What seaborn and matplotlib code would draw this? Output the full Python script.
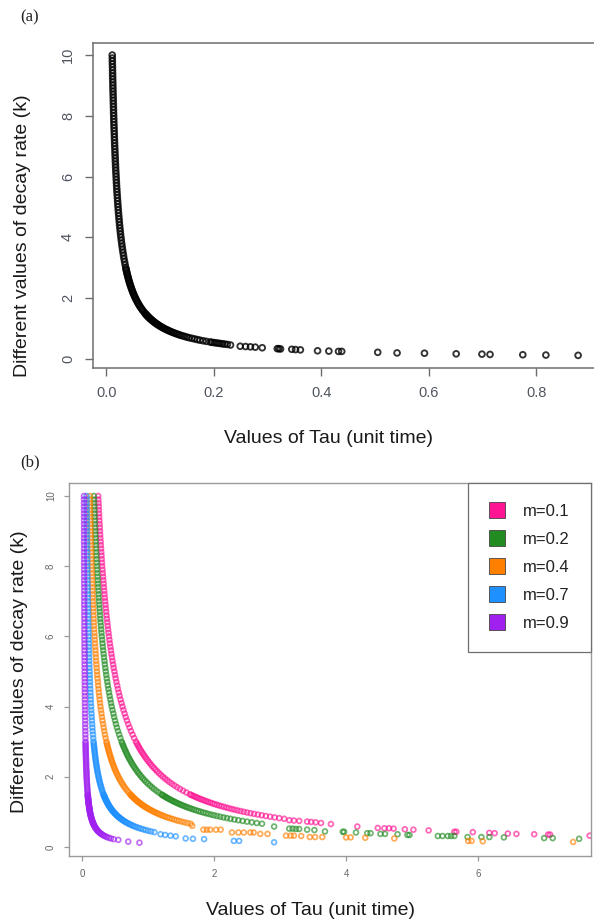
import matplotlib
matplotlib.use("Agg")
import matplotlib.pyplot as plt
from matplotlib.lines import Line2D
import pandas as pd
import seaborn as sns

# ---------------------------------------------------------------------------
# Decay rates (k) sampled along the dense part of every curve
# ---------------------------------------------------------------------------
k_dense = [
    10.0, 9.9, 9.8, 9.7, 9.6, 9.5, 9.4, 9.3, 9.2, 9.1,
    9.0, 8.9, 8.8, 8.7, 8.6, 8.5, 8.4, 8.3, 8.2, 8.1,
    8.0, 7.9, 7.8, 7.7, 7.6, 7.5, 7.4, 7.3, 7.2, 7.1,
    7.0, 6.9, 6.8, 6.7, 6.6, 6.5, 6.4, 6.3, 6.2, 6.1,
    6.0, 5.9, 5.8, 5.7, 5.6, 5.5, 5.4, 5.3, 5.2, 5.1,
    5.0, 4.9, 4.8, 4.7, 4.6, 4.5, 4.4, 4.3, 4.2, 4.1,
    4.0, 3.9, 3.8, 3.7, 3.6, 3.5, 3.4, 3.3, 3.2, 3.1,
    3.0, 2.95, 2.9, 2.85, 2.8, 2.75, 2.7, 2.65, 2.6, 2.55,
    2.5, 2.45, 2.4, 2.35, 2.3, 2.25, 2.2, 2.15, 2.1, 2.05,
    2.0, 1.95, 1.9, 1.85, 1.8, 1.75, 1.7, 1.65, 1.6, 1.55,
    1.5, 1.48, 1.46, 1.44, 1.42, 1.4, 1.38, 1.36, 1.34, 1.32,
    1.3, 1.28, 1.26, 1.24, 1.22, 1.2, 1.18, 1.16, 1.14, 1.12,
    1.1, 1.08, 1.06, 1.04, 1.02, 1.0, 0.98, 0.96, 0.94, 0.92,
    0.9, 0.88, 0.86, 0.84, 0.82, 0.8,
]

# Panel (a): Tau at each k_dense value
tau_single = [
    0.0108, 0.0109, 0.0110, 0.0111, 0.0113, 0.0114, 0.0115, 0.0116, 0.0117, 0.0119,
    0.0120, 0.0121, 0.0123, 0.0124, 0.0126, 0.0127, 0.0129, 0.0130, 0.0132, 0.0133,
    0.0135, 0.0137, 0.0138, 0.0140, 0.0142, 0.0144, 0.0146, 0.0148, 0.0150, 0.0152,
    0.0154, 0.0157, 0.0159, 0.0161, 0.0164, 0.0166, 0.0169, 0.0171, 0.0174, 0.0177,
    0.0180, 0.0183, 0.0186, 0.0189, 0.0193, 0.0196, 0.0200, 0.0204, 0.0208, 0.0212,
    0.0216, 0.0220, 0.0225, 0.0230, 0.0235, 0.0240, 0.0245, 0.0251, 0.0257, 0.0263,
    0.0270, 0.0277, 0.0284, 0.0292, 0.0300, 0.0309, 0.0318, 0.0327, 0.0338, 0.0348,
    0.0360, 0.0366, 0.0372, 0.0379, 0.0386, 0.0393, 0.0400, 0.0408, 0.0415, 0.0424,
    0.0432, 0.0441, 0.0450, 0.0460, 0.0470, 0.0480, 0.0491, 0.0502, 0.0514, 0.0527,
    0.0540, 0.0554, 0.0568, 0.0584, 0.0600, 0.0617, 0.0635, 0.0655, 0.0675, 0.0697,
    0.0720, 0.0730, 0.0740, 0.0750, 0.0761, 0.0771, 0.0783, 0.0794, 0.0806, 0.0818,
    0.0831, 0.0844, 0.0857, 0.0871, 0.0885, 0.0900, 0.0915, 0.0931, 0.0947, 0.0964,
    0.0982, 0.1000, 0.1019, 0.1038, 0.1059, 0.1080, 0.1102, 0.1125, 0.1149, 0.1174,
    0.1200, 0.1227, 0.1256, 0.1286, 0.1317, 0.1350,
]
tail_single_tau = [
    0.138, 0.142, 0.146, 0.150, 0.154, 0.159, 0.164, 0.169, 0.174, 0.180,
    0.186, 0.193, 0.196, 0.200, 0.204, 0.208, 0.212, 0.216, 0.220, 0.225,
    0.231, 0.249, 0.259, 0.268, 0.277, 0.290, 0.318, 0.321, 0.324, 0.345,
    0.352, 0.361, 0.393, 0.414, 0.432, 0.438, 0.505, 0.541, 0.592, 0.651,
    0.699, 0.714, 0.775, 0.818, 0.878,
]
tail_single_k = [
    0.78, 0.76, 0.74, 0.72, 0.70, 0.68, 0.66, 0.64, 0.62, 0.60,
    0.58, 0.56, 0.55, 0.54, 0.53, 0.52, 0.51, 0.50, 0.49, 0.48,
    0.46, 0.42, 0.41, 0.40, 0.39, 0.37, 0.34, 0.34, 0.33, 0.32,
    0.31, 0.30, 0.27, 0.26, 0.25, 0.25, 0.22, 0.20, 0.19, 0.17,
    0.16, 0.15, 0.14, 0.13, 0.12,
]

# Panel (b): one Tau series per value of m
m_labels = ["m=0.1", "m=0.2", "m=0.4", "m=0.7", "m=0.9"]
m_colors = ["#FF1493", "#228B22", "#FF7F00", "#1E90FF", "#A020F0"]

tau_m01 = [
    0.245, 0.247, 0.250, 0.253, 0.255, 0.258, 0.261, 0.263, 0.266, 0.269,
    0.272, 0.275, 0.278, 0.282, 0.285, 0.288, 0.292, 0.295, 0.299, 0.302,
    0.306, 0.310, 0.314, 0.318, 0.322, 0.327, 0.331, 0.336, 0.340, 0.345,
    0.350, 0.355, 0.360, 0.366, 0.371, 0.377, 0.383, 0.389, 0.395, 0.402,
    0.408, 0.415, 0.422, 0.430, 0.438, 0.445, 0.454, 0.462, 0.471, 0.480,
    0.490, 0.500, 0.510, 0.521, 0.533, 0.544, 0.557, 0.570, 0.583, 0.598,
    0.613, 0.628, 0.645, 0.662, 0.681, 0.700, 0.721, 0.742, 0.766, 0.790,
    0.817, 0.831, 0.845, 0.860, 0.875, 0.891, 0.907, 0.925, 0.942, 0.961,
    0.980, 1.000, 1.021, 1.043, 1.065, 1.089, 1.114, 1.140, 1.167, 1.195,
    1.225, 1.256, 1.289, 1.324, 1.361, 1.400, 1.441, 1.485, 1.531, 1.581,
    1.633, 1.655, 1.678, 1.701, 1.725, 1.750, 1.775, 1.801, 1.828, 1.856,
    1.885, 1.914, 1.944, 1.976, 2.008, 2.042, 2.076, 2.112, 2.149, 2.188,
    2.227, 2.269, 2.311, 2.356, 2.402, 2.450, 2.500, 2.552, 2.606, 2.663,
    2.722, 2.784, 2.849, 2.917, 2.988, 3.063,
]
tau_m02 = [
    0.180, 0.182, 0.184, 0.186, 0.188, 0.189, 0.191, 0.194, 0.196, 0.198,
    0.200, 0.202, 0.205, 0.207, 0.209, 0.212, 0.214, 0.217, 0.220, 0.222,
    0.225, 0.228, 0.231, 0.234, 0.237, 0.240, 0.243, 0.247, 0.250, 0.254,
    0.257, 0.261, 0.265, 0.269, 0.273, 0.277, 0.281, 0.286, 0.290, 0.295,
    0.300, 0.305, 0.310, 0.316, 0.321, 0.327, 0.333, 0.340, 0.346, 0.353,
    0.360, 0.367, 0.375, 0.383, 0.391, 0.400, 0.409, 0.419, 0.429, 0.439,
    0.450, 0.462, 0.474, 0.486, 0.500, 0.514, 0.529, 0.545, 0.563, 0.581,
    0.600, 0.610, 0.621, 0.632, 0.643, 0.655, 0.667, 0.679, 0.692, 0.706,
    0.720, 0.735, 0.750, 0.766, 0.783, 0.800, 0.818, 0.837, 0.857, 0.878,
    0.900, 0.923, 0.947, 0.973, 1.000, 1.029, 1.059, 1.091, 1.125, 1.161,
    1.200, 1.216, 1.233, 1.250, 1.268, 1.286, 1.304, 1.324, 1.343, 1.364,
    1.385, 1.406, 1.429, 1.452, 1.475, 1.500, 1.525, 1.552, 1.579, 1.607,
    1.636, 1.667, 1.698, 1.731, 1.765, 1.800, 1.837, 1.875, 1.915, 1.957,
    2.000, 2.045, 2.093, 2.143, 2.195, 2.250,
]
tau_m04 = [
    0.118, 0.119, 0.120, 0.121, 0.123, 0.124, 0.125, 0.126, 0.127, 0.129,
    0.130, 0.131, 0.133, 0.134, 0.136, 0.137, 0.139, 0.140, 0.142, 0.143,
    0.145, 0.147, 0.148, 0.150, 0.152, 0.154, 0.156, 0.158, 0.160, 0.162,
    0.164, 0.167, 0.169, 0.171, 0.174, 0.176, 0.179, 0.181, 0.184, 0.187,
    0.190, 0.193, 0.196, 0.199, 0.203, 0.206, 0.210, 0.214, 0.218, 0.222,
    0.226, 0.230, 0.235, 0.240, 0.245, 0.250, 0.255, 0.261, 0.267, 0.273,
    0.280, 0.287, 0.294, 0.302, 0.310, 0.319, 0.328, 0.337, 0.348, 0.358,
    0.370, 0.376, 0.382, 0.389, 0.396, 0.403, 0.410, 0.418, 0.425, 0.434,
    0.442, 0.451, 0.460, 0.470, 0.480, 0.490, 0.501, 0.512, 0.524, 0.537,
    0.550, 0.564, 0.578, 0.594, 0.610, 0.627, 0.645, 0.665, 0.685, 0.707,
    0.730, 0.740, 0.750, 0.760, 0.771, 0.781, 0.793, 0.804, 0.816, 0.828,
    0.841, 0.854, 0.867, 0.881, 0.895, 0.910, 0.925, 0.941, 0.957, 0.974,
    0.992, 1.010, 1.029, 1.048, 1.069, 1.090, 1.112, 1.135, 1.159, 1.184,
    1.210, 1.237, 1.266, 1.296, 1.327, 1.360,
]
tau_m07 = [
    0.070, 0.070, 0.071, 0.071, 0.072, 0.072, 0.073, 0.073, 0.074, 0.074,
    0.075, 0.076, 0.076, 0.077, 0.077, 0.078, 0.079, 0.079, 0.080, 0.081,
    0.081, 0.082, 0.083, 0.083, 0.084, 0.085, 0.086, 0.087, 0.088, 0.088,
    0.089, 0.090, 0.091, 0.092, 0.093, 0.094, 0.095, 0.096, 0.098, 0.099,
    0.100, 0.101, 0.103, 0.104, 0.105, 0.107, 0.108, 0.110, 0.112, 0.113,
    0.115, 0.117, 0.119, 0.121, 0.123, 0.125, 0.127, 0.130, 0.132, 0.135,
    0.138, 0.140, 0.143, 0.147, 0.150, 0.154, 0.157, 0.161, 0.166, 0.170,
    0.175, 0.178, 0.180, 0.183, 0.186, 0.189, 0.192, 0.195, 0.198, 0.201,
    0.205, 0.209, 0.213, 0.216, 0.221, 0.225, 0.230, 0.234, 0.239, 0.245,
    0.250, 0.256, 0.262, 0.268, 0.275, 0.282, 0.290, 0.298, 0.306, 0.315,
    0.325, 0.329, 0.333, 0.338, 0.342, 0.346, 0.351, 0.356, 0.361, 0.366,
    0.371, 0.377, 0.382, 0.388, 0.394, 0.400, 0.406, 0.413, 0.420, 0.427,
    0.434, 0.442, 0.450, 0.458, 0.466, 0.475, 0.484, 0.494, 0.504, 0.514,
    0.525, 0.536, 0.548, 0.561, 0.574, 0.588,
]
tau_m09 = [
    0.030, 0.030, 0.030, 0.030, 0.030, 0.031, 0.031, 0.031, 0.031, 0.031,
    0.031, 0.031, 0.031, 0.031, 0.032, 0.032, 0.032, 0.032, 0.032, 0.032,
    0.033, 0.033, 0.033, 0.033, 0.033, 0.033, 0.034, 0.034, 0.034, 0.034,
    0.034, 0.034, 0.035, 0.035, 0.035, 0.035, 0.036, 0.036, 0.036, 0.036,
    0.037, 0.037, 0.037, 0.038, 0.038, 0.038, 0.039, 0.039, 0.039, 0.040,
    0.040, 0.040, 0.041, 0.041, 0.042, 0.042, 0.043, 0.043, 0.044, 0.044,
    0.045, 0.046, 0.046, 0.047, 0.048, 0.049, 0.049, 0.050, 0.051, 0.052,
    0.053, 0.054, 0.054, 0.055, 0.056, 0.056, 0.057, 0.058, 0.058, 0.059,
    0.060, 0.061, 0.062, 0.063, 0.063, 0.064, 0.065, 0.067, 0.068, 0.069,
    0.070, 0.071, 0.073, 0.074, 0.076, 0.077, 0.079, 0.081, 0.083, 0.085,
    0.087, 0.088, 0.088, 0.089, 0.090, 0.091, 0.092, 0.094, 0.095, 0.096,
    0.097, 0.098, 0.099, 0.101, 0.102, 0.103, 0.105, 0.106, 0.108, 0.109,
    0.111, 0.113, 0.114, 0.116, 0.118, 0.120, 0.122, 0.124, 0.126, 0.129,
    0.131, 0.134, 0.136, 0.139, 0.142, 0.145,
]

# Sparser ends of each curve (small k, large Tau)
tail_m01_tau = [3.14, 3.21, 3.29, 3.41, 3.47, 3.54, 3.62, 3.77, 4.17, 4.48,
                4.58, 4.65, 4.72, 4.89, 5.02, 5.25, 5.64, 5.67, 5.92, 6.17,
                6.25, 6.45, 6.58, 6.85, 7.06, 7.09, 7.69]
tail_m01_k = [0.76, 0.75, 0.74, 0.72, 0.71, 0.70, 0.68, 0.65, 0.58, 0.54,
              0.53, 0.53, 0.52, 0.50, 0.49, 0.47, 0.43, 0.43, 0.42, 0.40,
              0.39, 0.38, 0.37, 0.36, 0.35, 0.35, 0.32]

tail_m02_tau = [2.308, 2.368, 2.432, 2.500, 2.571, 2.647, 2.727, 2.91, 3.14, 3.19,
                3.24, 3.29, 3.41, 3.52, 3.68, 3.95, 3.97, 4.15, 4.32, 4.37,
                4.52, 4.59, 4.78, 4.93, 4.96, 5.39, 5.46, 5.54, 5.59, 5.64,
                5.84, 6.05, 6.17, 6.39, 7.00, 7.13, 7.53]
tail_m02_k = [0.78, 0.76, 0.74, 0.72, 0.70, 0.68, 0.66, 0.58, 0.52, 0.52,
              0.51, 0.51, 0.49, 0.48, 0.44, 0.43, 0.43, 0.41, 0.39, 0.39,
              0.37, 0.37, 0.36, 0.34, 0.34, 0.31, 0.31, 0.31, 0.31, 0.31,
              0.28, 0.28, 0.28, 0.27, 0.25, 0.25, 0.23]

tail_m04_tau = [1.395, 1.431, 1.469, 1.510, 1.553, 1.598, 1.646, 1.67, 1.84, 1.89,
                1.94, 2.03, 2.10, 2.27, 2.37, 2.45, 2.55, 2.60, 2.70, 2.81,
                3.09, 3.16, 3.21, 3.32, 3.45, 3.53, 3.64, 4.00, 4.07, 4.29,
                4.73, 5.85, 5.90, 6.07, 7.44]
tail_m04_k = [0.78, 0.76, 0.74, 0.72, 0.70, 0.68, 0.66, 0.60, 0.49, 0.49,
              0.49, 0.49, 0.49, 0.41, 0.41, 0.41, 0.41, 0.41, 0.37, 0.37,
              0.32, 0.32, 0.32, 0.31, 0.28, 0.28, 0.28, 0.27, 0.27, 0.26,
              0.24, 0.17, 0.17, 0.16, 0.14]

tail_m07_tau = [0.602, 0.617, 0.633, 0.650, 0.668, 0.687, 0.707, 0.728, 0.751, 0.775,
                0.801, 0.829, 0.858, 0.890, 0.925, 0.963, 1.003, 1.048, 1.096, 1.19,
                1.26, 1.34, 1.42, 1.57, 1.68, 1.85, 2.30, 2.38, 2.91]
tail_m07_k = [0.78, 0.76, 0.74, 0.72, 0.70, 0.68, 0.66, 0.64, 0.62, 0.60,
              0.58, 0.56, 0.54, 0.52, 0.50, 0.48, 0.46, 0.44, 0.42, 0.36,
              0.34, 0.32, 0.30, 0.24, 0.23, 0.22, 0.17, 0.17, 0.13]

tail_m09_tau = [0.148, 0.152, 0.155, 0.159, 0.163, 0.167, 0.172, 0.176, 0.181, 0.187,
                0.192, 0.199, 0.205, 0.212, 0.220, 0.228, 0.237, 0.247, 0.258, 0.270,
                0.283, 0.298, 0.314, 0.333, 0.353, 0.377, 0.405, 0.437, 0.48, 0.55,
                0.70, 0.87]
tail_m09_k = [0.78, 0.76, 0.74, 0.72, 0.70, 0.68, 0.66, 0.64, 0.62, 0.60,
              0.58, 0.56, 0.54, 0.52, 0.50, 0.48, 0.46, 0.44, 0.42, 0.40,
              0.38, 0.36, 0.34, 0.32, 0.30, 0.28, 0.26, 0.24, 0.22, 0.20,
              0.15, 0.12]

# Axis tick values
ticks_a_x = [0.0, 0.2, 0.4, 0.6, 0.8]
ticks_a_x_labels = ["0.0", "0.2", "0.4", "0.6", "0.8"]
ticks_b_x = [0, 2, 4, 6]
ticks_k = [0, 2, 4, 6, 8, 10]

# ---------------------------------------------------------------------------
# Tables
# ---------------------------------------------------------------------------
df_a = pd.DataFrame({
    "tau": tau_single + tail_single_tau,
    "k": k_dense + tail_single_k,
})

dense_by_m = [tau_m01, tau_m02, tau_m04, tau_m07, tau_m09]
tails_by_m = [(tail_m01_tau, tail_m01_k), (tail_m02_tau, tail_m02_k),
              (tail_m04_tau, tail_m04_k), (tail_m07_tau, tail_m07_k),
              (tail_m09_tau, tail_m09_k)]
frames = []
for lab, dense, (t_tau, t_k) in zip(m_labels, dense_by_m, tails_by_m):
    frames.append(pd.DataFrame({"tau": dense + t_tau, "k": k_dense + t_k, "m": lab}))
df_b = pd.concat(frames, ignore_index=True)

# ---------------------------------------------------------------------------
# Figure
# ---------------------------------------------------------------------------
sns.set_style("white")
plt.rcParams["font.family"] = ["Liberation Sans", "DejaVu Sans"]

W, H = 594, 922
fig = plt.figure(figsize=(W / 100, H / 100), dpi=100)


def px_axes(left, top, right, bottom):
    return fig.add_axes([left / W, 1 - bottom / H, (right - left) / W, (bottom - top) / H])


ax_a = px_axes(93, 43, 598, 368)
ax_b = px_axes(69, 483, 591, 856)

# Panel (a): single curve of open black circles
sns.scatterplot(data=df_a, x="tau", y="k", ax=ax_a, marker="o", s=17,
                color="black", facecolor="none", edgecolor="black",
                linewidth=1.35, alpha=0.8, legend=False)

# Panel (b): one curve per m, drawn from m=0.1 up to m=0.9
for lab, col in zip(m_labels, m_colors):
    sns.scatterplot(data=df_b[df_b["m"] == lab], x="tau", y="k", ax=ax_b,
                    marker="o", s=12, color=col, facecolor="none", edgecolor=col,
                    linewidth=1.25, alpha=0.65, legend=False)

# Axes styling
ax_a.set_xlim(-0.025, 0.915)
ax_a.set_ylim(-0.296, 10.396)
ax_b.set_xlim(-0.197, 7.71)
ax_b.set_ylim(-0.26, 10.37)

ax_a.set_xticks(ticks_a_x)
ax_a.set_xticklabels(ticks_a_x_labels)
ax_a.set_yticks(ticks_k)
ax_b.set_xticks(ticks_b_x)
ax_b.set_yticks(ticks_k)

for ax, spine_col, lw in ((ax_a, "#6e6e6e", 1.1), (ax_b, "#9a9a9a", 1.0)):
    for sp in ax.spines.values():
        sp.set_visible(True)
        sp.set_color(spine_col)
        sp.set_linewidth(lw)

ax_a.tick_params(axis="both", direction="out", length=5.8, width=1.0, color="#6e6e6e",
                 labelsize=10.5, labelcolor="#4f5560", pad=7.2,
                 bottom=True, left=True)
ax_b.tick_params(axis="both", direction="out", length=3.6, width=0.9, color="#9a9a9a",
                 labelsize=7, labelcolor="#666666", pad=5.8,
                 bottom=True, left=True)
for ax in (ax_a, ax_b):
    plt.setp(ax.get_yticklabels(), rotation=90, va="center")

# Axis titles
label_kw = dict(fontsize=14, color="#1a1a1a", va="center")
ax_a.set_xlabel("Values of Tau (unit time)", **label_kw)
ax_a.set_ylabel("Different values of decay rate (k)", **label_kw)
ax_a.xaxis.set_label_coords((329 - 93) / 505, (368 - 438) / 325)
ax_a.yaxis.set_label_coords((23 - 93) / 505, (368 - 236) / 325)

ax_b.set_xlabel("Values of Tau (unit time)", **label_kw)
ax_b.set_ylabel("Different values of decay rate (k)", **label_kw)
ax_b.xaxis.set_label_coords((310.5 - 69) / 522, (856 - 910) / 373)
ax_b.yaxis.set_label_coords((20 - 69) / 522, (856 - 671.5) / 373)

# Legend with filled squares
handles = [Line2D([0], [0], marker="s", linestyle="none", markersize=11.5,
                  markerfacecolor=c, markeredgecolor="#444444", markeredgewidth=0.6)
           for c in m_colors]
leg = ax_b.legend(handles, m_labels, loc="upper right", bbox_to_anchor=(1, 1),
                  borderaxespad=0, frameon=True, fancybox=False, framealpha=1,
                  edgecolor="#6e6e6e", fontsize=12, borderpad=1.25,
                  labelspacing=0.78, handlelength=1.0, handletextpad=1.1)
leg.get_frame().set_linewidth(0.9)
for t in leg.get_texts():
    t.set_color("#222222")

# Panel letters
fig.text(30 / W, 1 - 17.5 / H, "(a)", family=["Liberation Serif", "DejaVu Serif"],
         fontsize=12, ha="center", va="center", color="#222222")
fig.text(30.5 / W, 1 - 462.5 / H, "(b)", family=["Liberation Serif", "DejaVu Serif"],
         fontsize=12, ha="center", va="center", color="#222222")

fig.savefig("out.png", dpi=100)
